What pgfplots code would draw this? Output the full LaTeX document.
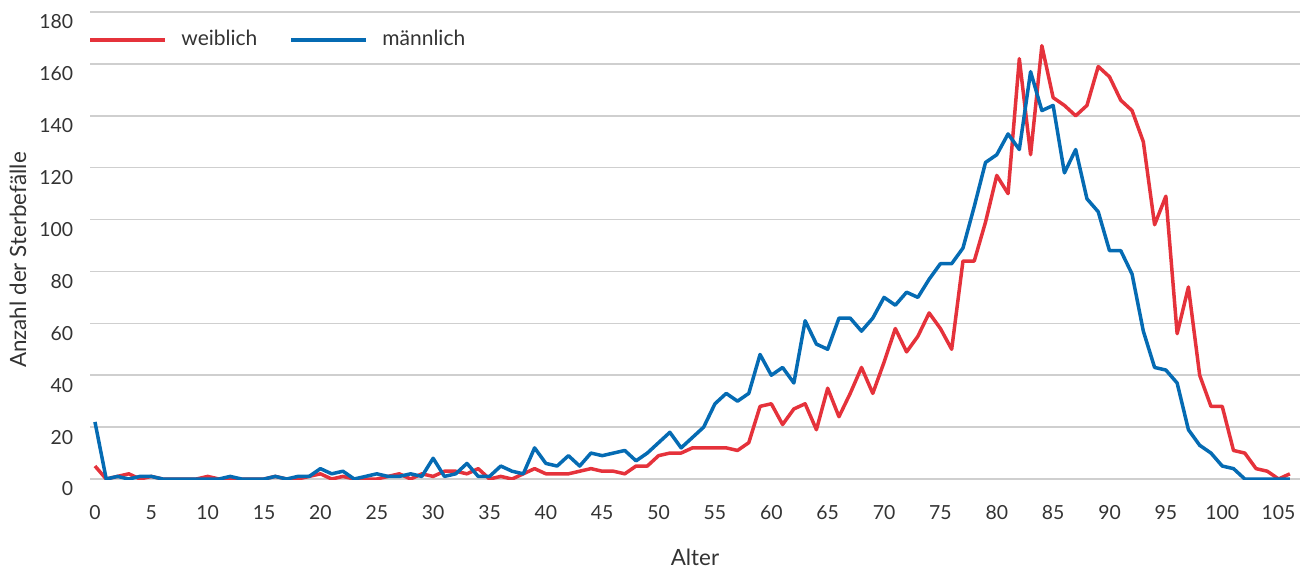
\documentclass[border=0pt]{standalone}
\usepackage{fontspec}
\setmainfont{Lato}
\usepackage{pgfplots}
\usepackage{pgfplotstable}
\pgfplotsset{compat=1.18}

\definecolor{wred}{HTML}{E5323B}
\definecolor{mblue}{HTML}{056BB3}
\definecolor{gridgray}{HTML}{CFCFCF}
\definecolor{txt}{HTML}{333333}

% Alter, weiblich, maennlich
\pgfplotstableread{
a w m
0 5 22
1 0 0
2 1 1
3 2 0
4 0 1
5 1 1
6 0 0
7 0 0
8 0 0
9 0 0
10 1 0
11 0 0
12 0 1
13 0 0
14 0 0
15 0 0
16 1 1
17 0 0
18 0 1
19 1 1
20 2 4
21 0 2
22 1 3
23 0 0
24 0 1
25 0 2
26 1 1
27 2 1
28 0 2
29 2 1
30 1 8
31 3 1
32 3 2
33 2 6
34 4 1
35 0 1
36 1 5
37 0 3
38 2 2
39 4 12
40 2 6
41 2 5
42 2 9
43 3 5
44 4 10
45 3 9
46 3 10
47 2 11
48 5 7
49 5 10
50 9 14
51 10 18
52 10 12
53 12 16
54 12 20
55 12 29
56 12 33
57 11 30
58 14 33
59 28 48
60 29 40
61 21 43
62 27 37
63 29 61
64 19 52
65 35 50
66 24 62
67 33 62
68 43 57
69 33 62
70 45 70
71 58 67
72 49 72
73 55 70
74 64 77
75 58 83
76 50 83
77 84 89
78 84 105
79 99 122
80 117 125
81 110 133
82 162 127
83 125 157
84 167 142
85 147 144
86 144 118
87 140 127
88 144 108
89 159 103
90 155 88
91 146 88
92 142 79
93 130 57
94 98 43
95 109 42
96 56 37
97 74 19
98 40 13
99 28 10
100 28 5
101 11 4
102 10 0
103 4 0
104 3 0
105 0 0
106 2 0
}\sterbe

\begin{document}
\fontsize{9.7}{12}\selectfont\color{txt}
\begin{tikzpicture}
\begin{axis}[
  at={(45pt,45pt)}, anchor=south west,
  scale only axis, width=605pt, height=233.5pt,
  xmin=-0.44, xmax=106.9, ymin=0, ymax=180,
  xtick={0,5,...,105}, ytick={0,20,...,180},
  axis line style={draw=none}, major tick length=0pt,
  ymajorgrids, grid style={gridgray, line width=0.75pt},
  ticklabel style={font=\fontsize{9.7}{12}\selectfont, text=txt},
  /pgf/number format/assume math mode=true,
  yticklabel style={xshift=-5pt, yshift=-5pt},
  xticklabel style={yshift=-10pt},
  xlabel={Alter}, ylabel={Anzahl der Sterbefälle},
  xlabel style={at={(axis description cs:0.5,-0.167)}, anchor=center, font=\fontsize{11.2}{13}\selectfont, text=txt},
  ylabel style={at={(axis description cs:-0.0595,0.469)}, anchor=center, font=\fontsize{11.2}{13}\selectfont, text=txt},
  legend columns=2,
  legend style={draw=none, fill=none, inner sep=0pt, at={(axis description cs:0,1)}, anchor=north west,
    xshift=-1pt, yshift=-7pt, font=\fontsize{10.5}{12}\selectfont, text=txt},
  /tikz/every odd column/.append style={column sep=5pt},
  /tikz/every even column/.append style={column sep=14pt},
  legend image code/.code={\draw[#1, line width=2pt] (0pt,0pt) -- (37.5pt,0pt);},
]
\addplot[wred, line width=1.75pt, line join=round] table[x=a, y=w] {\sterbe};
\addlegendentry{weiblich}
\addplot[mblue, line width=1.75pt, line join=round] table[x=a, y=m] {\sterbe};
\addlegendentry{männlich}
\end{axis}
\pgfresetboundingbox
\path (0,0) rectangle (650pt,284.5pt);
\end{tikzpicture}
\end{document}
